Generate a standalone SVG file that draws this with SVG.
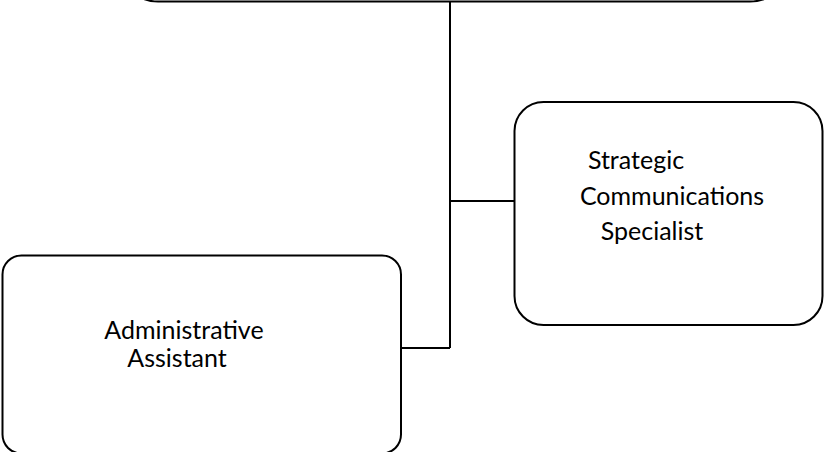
<svg xmlns="http://www.w3.org/2000/svg" width="825" height="452" viewBox="0 0 825 452">
<style>
.box{fill:#ffffff;stroke:#000000;stroke-width:2}
.conn{fill:none;stroke:#000000;stroke-width:2}
.lbl{font-family:Lato,"Liberation Sans",sans-serif;font-size:25px;fill:#000000;text-anchor:middle}
</style>
<rect width="825" height="452" fill="#ffffff"/>
<g id="connectors">
<path class="conn" d="M450,0 V348 M450,201 H514.5 M401,348 H450"/>
</g>
<g id="top-node">
<rect class="box" x="118" y="-100" width="672" height="101.5" rx="40" ry="40"/>
</g>
<g id="strategic-communications-specialist">
<rect class="box" x="514.5" y="102" width="308" height="223" rx="29" ry="29"/>
<text class="lbl"><tspan x="636" y="169">Strategic</tspan><tspan x="672" y="205">Communications</tspan><tspan x="652" y="240">Specialist</tspan></text>
</g>
<g id="administrative-assistant">
<rect class="box" x="2.5" y="255.5" width="398.5" height="198" rx="19" ry="19"/>
<text class="lbl"><tspan x="184" y="339">Administrative</tspan><tspan x="177" y="367">Assistant</tspan></text>
</g>
</svg>
